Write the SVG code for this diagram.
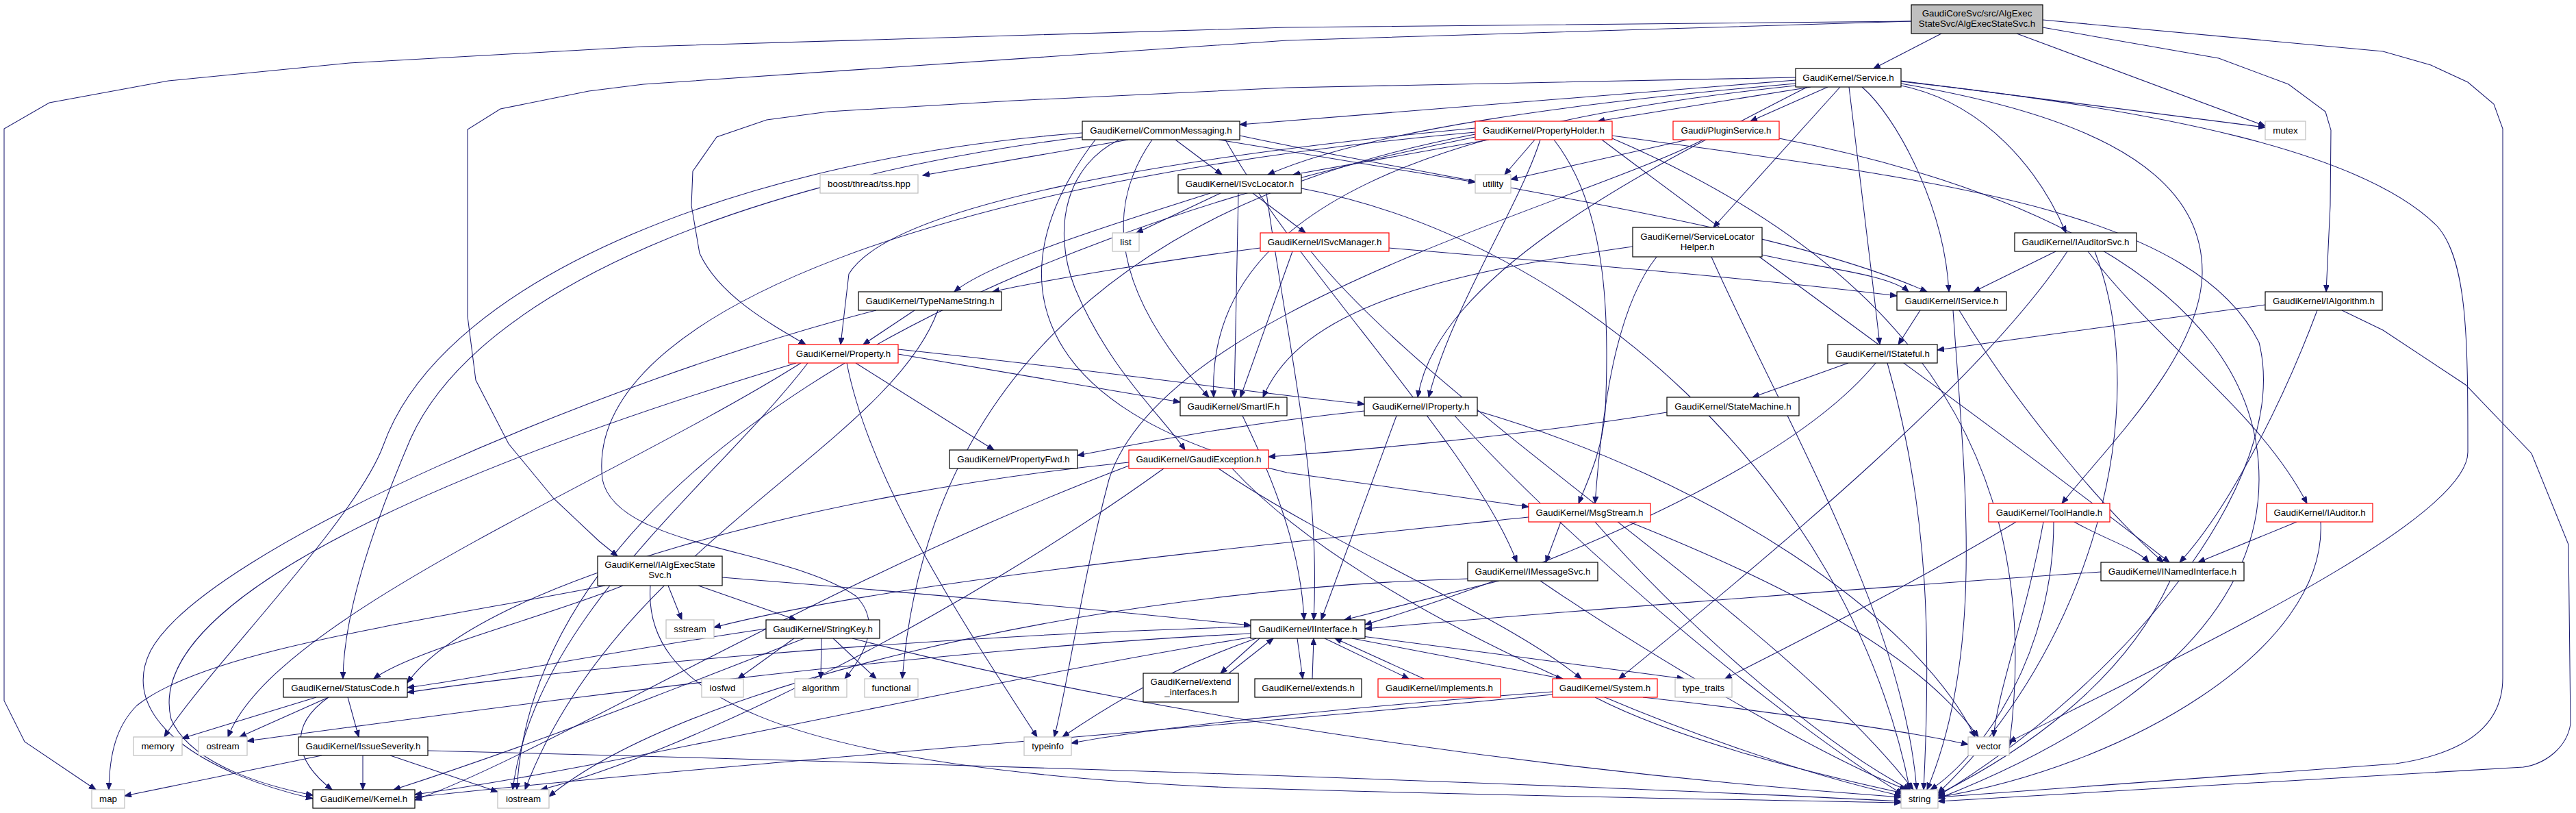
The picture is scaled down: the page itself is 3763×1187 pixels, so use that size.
<svg xmlns="http://www.w3.org/2000/svg" width="3763" height="1187" viewBox="0 0 3763 1187">
<defs>
<marker id="ah" markerUnits="userSpaceOnUse" markerWidth="12" markerHeight="9" refX="10" refY="4" orient="auto"><path d="M0,0 L10,4 L0,8 z" fill="#191970" stroke="#191970" stroke-width="1"/></marker>
</defs>
<style>
.e{fill:none;stroke:#191970;stroke-width:1.05;marker-end:url(#ah)}
.n rect{fill:#fff;stroke:#000;stroke-width:1.2}
.n.r rect{stroke:#ff0000}
.n.x rect{stroke:#bfbfbf}
.n.root rect{fill:#bfbfbf}
text{font-family:"Liberation Sans",Arial,Helvetica,sans-serif;font-size:13.33px;text-anchor:middle;fill:#000}
</style>
<rect width="3763" height="1187" fill="#fff"/>
<g id="edges">
<path class="e" d="M2836,49 L2737,100"/>
<path class="e" d="M2792,31 L1880,59 L940,123 L860,133 L731,159 L683,189 L683,462 L695,555 L743,648 L809,728 L875,790 L902,812"/>
<path class="e" d="M2792,31 L1880,40 L940,68 L510,92 L246,118 L72,150 L6,188 L6,1023 L36,1083 L140,1153"/>
<path class="e" d="M2946,49 L3309,184"/>
<path class="e" d="M2984,40 L3241,85 L3343,123 L3397,163 L3405,190 L3404,300 L3398,426"/>
<path class="e" d="M2984,29 L3481,75 L3551,95 L3605,120 L3643,152 L3656,188 L3656,990 C3656,1060 3600,1100 3500,1115 L2831,1164"/>
<path class="e" d="M2623,117 L1811,182"/>
<path class="e" d="M2645,127 L2334,177"/>
<path class="e" d="M2670,127 L2557,177"/>
<path class="e" d="M2623,122 C2300,150 2000,190 1852,255"/>
<path class="e" d="M2688,127 L2503,332"/>
<path class="e" d="M2777,125 C2900,150 2980,250 3018,340"/>
<path class="e" d="M2720,127 C2770,170 2840,300 2847,426"/>
<path class="e" d="M2701,127 L2734,400 L2746,503"/>
<path class="e" d="M2777,122 C3000,160 3220,230 3217,400 C3214,520 3080,650 3012,735"/>
<path class="e" d="M2623,113 L1880,128 L1480,147 L1210,163 L1120,175 L1047,200 L1012,250 L1010,300 L1022,370 C1050,430 1120,470 1177,503"/>
<path class="e" d="M2623,125 C2100,180 1760,300 1773,580"/>
<path class="e" d="M2640,127 C2400,250 2100,400 2071,580"/>
<path class="e" d="M2777,118 L3309,186"/>
<path class="e" d="M2777,119 C3150,160 3450,220 3560,330 C3605,380 3605,500 3605,660 C3605,760 3200,950 2935,1083"/>
<path class="e" d="M1648,204 L1348,256"/>
<path class="e" d="M1717,204 L1785,255"/>
<path class="e" d="M1780,204 L2155,266"/>
<path class="e" d="M1635,204 C1560,240 1535,330 1570,420 C1620,540 1700,610 1731,657"/>
<path class="e" d="M1683,204 C1630,280 1600,400 1766,580"/>
<path class="e" d="M1790,204 C1900,400 2150,650 2216,821"/>
<path class="e" d="M1600,204 C1450,400 1500,600 1880,690 L2233,740"/>
<path class="e" d="M1581,200 C1100,260 700,420 600,640 C540,780 502,900 501,991"/>
<path class="e" d="M1581,194 C1100,230 650,400 560,650 C520,760 300,980 240,1076"/>
<path class="e" d="M1811,198 C2200,280 2600,330 2815,426"/>
<path class="e" d="M2175,204 L1889,255"/>
<path class="e" d="M2242,204 L2198,255"/>
<path class="e" d="M2250,204 C2220,300 2120,450 2087,580"/>
<path class="e" d="M2270,204 C2345,300 2352,450 2345,600 C2340,660 2320,700 2306,735"/>
<path class="e" d="M2155,187 C1700,230 1300,300 1240,400 L1228,503"/>
<path class="e" d="M2155,193 C1400,260 850,450 880,700 C900,800 1150,800 1250,870 C1290,910 1260,960 1234,991"/>
<path class="e" d="M2155,196 C1600,300 1350,600 1318,991"/>
<path class="e" d="M2155,200 C1400,350 780,700 755,1153"/>
<path class="e" d="M2355,198 C2800,260 3200,300 3300,500 C3350,700 3100,1000 2831,1162"/>
<path class="e" d="M2355,202 C2700,350 3000,600 2935,1090"/>
<path class="e" d="M2340,204 C2600,400 2950,650 3169,821"/>
<path class="e" d="M2465,204 L2207,262"/>
<path class="e" d="M2488,204 C2300,300 1700,450 1620,700 C1580,850 1560,1000 1540,1076"/>
<path class="e" d="M2599,202 C2900,260 3300,400 3300,700 C3300,950 3000,1100 2831,1166"/>
<path class="e" d="M1783,282 L1660,340"/>
<path class="e" d="M1768,282 C1650,320 1450,380 1394,426"/>
<path class="e" d="M1809,282 L1803,580"/>
<path class="e" d="M1830,282 L1907,340"/>
<path class="e" d="M1850,282 C1880,500 1930,700 1919,905"/>
<path class="e" d="M1901,275 C2300,350 2700,700 2790,1153"/>
<path class="e" d="M1841,362 C1700,380 1520,410 1450,426"/>
<path class="e" d="M2029,362 C2300,385 2600,410 2771,432"/>
<path class="e" d="M1888,367 L1812,580"/>
<path class="e" d="M1915,367 C2100,600 2600,900 2795,1153"/>
<path class="e" d="M2385,360 C2100,400 1900,450 1845,580"/>
<path class="e" d="M2420,375 C2360,450 2340,600 2330,735"/>
<path class="e" d="M2574,372 C2650,390 2760,400 2788,426"/>
<path class="e" d="M2500,375 C2600,600 2780,900 2800,1153"/>
<path class="e" d="M3003,367 L2883,426"/>
<path class="e" d="M3020,367 C2900,550 2600,800 2365,991"/>
<path class="e" d="M3050,367 C3150,500 3300,600 3370,735"/>
<path class="e" d="M3060,367 C3150,600 3050,950 2831,1158"/>
<path class="e" d="M3309,445 L2830,511"/>
<path class="e" d="M3385,453 C3330,600 3250,750 3184,821"/>
<path class="e" d="M3421,453 L3481,482 L3602,562 L3698,662 L3752,795 L3755,1057 C3750,1090 3720,1115 3686,1120 L2831,1170"/>
<path class="e" d="M2805,453 L2773,503"/>
<path class="e" d="M2862,453 C2950,600 3080,750 3160,821"/>
<path class="e" d="M2853,453 C2870,700 2900,950 2815,1153"/>
<path class="e" d="M1336,453 L1261,503"/>
<path class="e" d="M1280,453 C900,550 300,800 220,950 C170,1050 300,1130 457,1166"/>
<path class="e" d="M1370,453 C1300,650 900,800 767,1153"/>
<path class="e" d="M1312,517 L1724,587"/>
<path class="e" d="M1312,510 C1600,540 1800,570 1993,590"/>
<path class="e" d="M1250,530 L1452,657"/>
<path class="e" d="M1163,530 C800,640 200,850 250,1050 C280,1120 400,1150 457,1161"/>
<path class="e" d="M1237,530 C1270,700 1400,900 1515,1076"/>
<path class="e" d="M1180,530 C1050,700 780,900 749,1153"/>
<path class="e" d="M1170,530 C900,700 400,900 333,1076"/>
<path class="e" d="M2700,530 L2560,580"/>
<path class="e" d="M2740,530 C2600,700 2200,850 1994,912"/>
<path class="e" d="M2757,530 C2820,750 2820,950 2810,1153"/>
<path class="e" d="M1815,607 C1860,700 1900,800 1905,905"/>
<path class="e" d="M1993,600 C1800,620 1650,650 1574,665"/>
<path class="e" d="M2040,607 L1930,905"/>
<path class="e" d="M2125,607 C2300,800 2600,1050 2780,1160"/>
<path class="e" d="M2158,600 C2500,700 2800,900 2885,1076"/>
<path class="e" d="M2435,602 C2200,640 1950,660 1853,667"/>
<path class="e" d="M1649,675 C1200,720 700,850 595,997"/>
<path class="e" d="M1649,680 C1200,850 800,1100 606,1168"/>
<path class="e" d="M1780,684 C1950,800 2200,900 2310,991"/>
<path class="e" d="M1800,684 C2000,900 2500,1100 2777,1162"/>
<path class="e" d="M1700,684 C1400,900 1000,1100 790,1153"/>
<path class="e" d="M2280,762 L2258,821"/>
<path class="e" d="M2233,755 C1800,800 1300,850 1043,916"/>
<path class="e" d="M2330,762 C2450,900 2650,1080 2790,1153"/>
<path class="e" d="M2380,762 C2600,850 2800,950 2890,1076"/>
<path class="e" d="M2945,762 C2800,850 2600,950 2520,991"/>
<path class="e" d="M2985,762 C2960,900 2920,1000 2912,1076"/>
<path class="e" d="M3000,762 C3000,950 2900,1100 2820,1153"/>
<path class="e" d="M3030,762 C3080,790 3120,800 3139,821"/>
<path class="e" d="M3355,762 L3211,821"/>
<path class="e" d="M3390,762 C3400,950 3100,1120 2831,1164"/>
<path class="e" d="M884,855 C600,910 300,950 200,1030 C170,1060 160,1100 159,1153"/>
<path class="e" d="M910,855 C800,900 600,950 546,991"/>
<path class="e" d="M976,855 L996,905"/>
<path class="e" d="M1020,855 L1163,905"/>
<path class="e" d="M1055,843 C1400,870 1700,900 1827,913"/>
<path class="e" d="M950,855 C940,1000 1100,1120 1800,1150 C2300,1165 2600,1168 2777,1172"/>
<path class="e" d="M2190,848 L1964,905"/>
<path class="e" d="M2250,848 C2400,950 2650,1100 2785,1153"/>
<path class="e" d="M2144,845 C1600,860 1000,1000 802,1163"/>
<path class="e" d="M3069,835 C2700,860 2200,900 1994,918"/>
<path class="e" d="M3170,848 C3100,1000 2950,1100 2831,1160"/>
<path class="e" d="M1119,918 C900,950 700,990 595,1004"/>
<path class="e" d="M1160,932 L1078,991"/>
<path class="e" d="M1200,932 L1199,991"/>
<path class="e" d="M1217,932 L1280,991"/>
<path class="e" d="M1175,932 C1000,1000 800,1080 575,1153"/>
<path class="e" d="M1245,932 C1700,1050 2300,1130 2777,1164"/>
<path class="e" d="M1840,932 L1783,983"/>
<path class="e" d="M1795,983 L1860,932"/>
<path class="e" d="M1895,932 L1903,991"/>
<path class="e" d="M1917,991 L1919,932"/>
<path class="e" d="M1935,932 L2058,991"/>
<path class="e" d="M2080,991 L1950,932"/>
<path class="e" d="M1975,932 L2283,991"/>
<path class="e" d="M1990,929 L2460,991"/>
<path class="e" d="M1835,932 C1700,980 1620,1030 1552,1076"/>
<path class="e" d="M1827,915 C1300,930 800,980 595,1011"/>
<path class="e" d="M1830,930 C1400,1000 900,1120 606,1160"/>
<path class="e" d="M1827,925 C1300,950 600,1050 361,1082"/>
<path class="e" d="M462,1018 L266,1078"/>
<path class="e" d="M480,1018 L350,1076"/>
<path class="e" d="M508,1018 L524,1076"/>
<path class="e" d="M480,1018 C420,1060 430,1110 485,1153"/>
<path class="e" d="M470,1103 L182,1162"/>
<path class="e" d="M530,1103 L530,1153"/>
<path class="e" d="M570,1103 L727,1156"/>
<path class="e" d="M625,1096 C1200,1110 2200,1140 2777,1170"/>
<path class="e" d="M2268,1010 C2000,1030 1700,1060 1565,1085"/>
<path class="e" d="M2268,1014 C1800,1060 1000,1120 606,1164"/>
<path class="e" d="M2330,1018 C2450,1080 2650,1130 2780,1158"/>
<path class="e" d="M2400,1018 C2600,1040 2800,1070 2875,1087"/>
</g>
<g id="node-root" class="n root"><rect x="2792" y="7" width="192" height="42"/><text x="2888" y="24">GaudiCoreSvc/src/AlgExec</text><text x="2888" y="39">StateSvc/AlgExecStateSvc.h</text></g>
<g id="node-service" class="n"><rect x="2623" y="100" width="154" height="27"/><text x="2700" y="118">GaudiKernel/Service.h</text></g>
<g id="node-commonmessaging" class="n"><rect x="1581" y="177" width="230" height="27"/><text x="1696" y="195">GaudiKernel/CommonMessaging.h</text></g>
<g id="node-propertyholder" class="n r"><rect x="2155" y="177" width="200" height="27"/><text x="2255" y="195">GaudiKernel/PropertyHolder.h</text></g>
<g id="node-pluginservice" class="n r"><rect x="2444" y="177" width="155" height="27"/><text x="2521.5" y="195">Gaudi/PluginService.h</text></g>
<g id="node-mutex" class="n x"><rect x="3309" y="177" width="59" height="27"/><text x="3338.5" y="195">mutex</text></g>
<g id="node-boost" class="n x"><rect x="1198" y="255" width="143" height="27"/><text x="1269.5" y="273">boost/thread/tss.hpp</text></g>
<g id="node-isvclocator" class="n"><rect x="1721" y="255" width="180" height="27"/><text x="1811" y="273">GaudiKernel/ISvcLocator.h</text></g>
<g id="node-utility" class="n x"><rect x="2155" y="255" width="52" height="27"/><text x="2181" y="273">utility</text></g>
<g id="node-list" class="n x"><rect x="1625" y="340" width="39" height="27"/><text x="1644.5" y="358">list</text></g>
<g id="node-isvcmanager" class="n r"><rect x="1841" y="340" width="188" height="27"/><text x="1935" y="358">GaudiKernel/ISvcManager.h</text></g>
<g id="node-servicelocatorhelper" class="n"><rect x="2385" y="332" width="189" height="43"/><text x="2479.5" y="349.5">GaudiKernel/ServiceLocator</text><text x="2479.5" y="364.5">Helper.h</text></g>
<g id="node-iauditorsvc" class="n"><rect x="2943" y="340" width="178" height="27"/><text x="3032" y="358">GaudiKernel/IAuditorSvc.h</text></g>
<g id="node-typenamestring" class="n"><rect x="1254" y="426" width="209" height="27"/><text x="1358.5" y="444">GaudiKernel/TypeNameString.h</text></g>
<g id="node-iservice" class="n"><rect x="2771" y="426" width="160" height="27"/><text x="2851" y="444">GaudiKernel/IService.h</text></g>
<g id="node-ialgorithm" class="n"><rect x="3309" y="426" width="171" height="27"/><text x="3394.5" y="444">GaudiKernel/IAlgorithm.h</text></g>
<g id="node-property" class="n r"><rect x="1152" y="503" width="160" height="27"/><text x="1232" y="521">GaudiKernel/Property.h</text></g>
<g id="node-istateful" class="n"><rect x="2670" y="503" width="160" height="27"/><text x="2750" y="521">GaudiKernel/IStateful.h</text></g>
<g id="node-smartif" class="n"><rect x="1724" y="580" width="156" height="27"/><text x="1802" y="598">GaudiKernel/SmartIF.h</text></g>
<g id="node-iproperty" class="n"><rect x="1993" y="580" width="165" height="27"/><text x="2075.5" y="598">GaudiKernel/IProperty.h</text></g>
<g id="node-statemachine" class="n"><rect x="2435" y="580" width="193" height="27"/><text x="2531.5" y="598">GaudiKernel/StateMachine.h</text></g>
<g id="node-propertyfwd" class="n"><rect x="1387" y="657" width="187" height="27"/><text x="1480.5" y="675">GaudiKernel/PropertyFwd.h</text></g>
<g id="node-gaudiexception" class="n r"><rect x="1649" y="657" width="204" height="27"/><text x="1751" y="675">GaudiKernel/GaudiException.h</text></g>
<g id="node-msgstream" class="n r"><rect x="2233" y="735" width="178" height="27"/><text x="2322" y="753">GaudiKernel/MsgStream.h</text></g>
<g id="node-toolhandle" class="n r"><rect x="2905" y="735" width="177" height="27"/><text x="2993.5" y="753">GaudiKernel/ToolHandle.h</text></g>
<g id="node-iauditor" class="n r"><rect x="3311" y="735" width="155" height="27"/><text x="3388.5" y="753">GaudiKernel/IAuditor.h</text></g>
<g id="node-ialgexecstatesvc" class="n"><rect x="873" y="812" width="182" height="43"/><text x="964" y="829">GaudiKernel/IAlgExecState</text><text x="964" y="844">Svc.h</text></g>
<g id="node-imessagesvc" class="n"><rect x="2144" y="821" width="190" height="27"/><text x="2239" y="839">GaudiKernel/IMessageSvc.h</text></g>
<g id="node-inamedinterface" class="n"><rect x="3069" y="821" width="209" height="27"/><text x="3173.5" y="839">GaudiKernel/INamedInterface.h</text></g>
<g id="node-sstream" class="n x"><rect x="973" y="905" width="70" height="27"/><text x="1008" y="923">sstream</text></g>
<g id="node-stringkey" class="n"><rect x="1119" y="905" width="166" height="27"/><text x="1202" y="923">GaudiKernel/StringKey.h</text></g>
<g id="node-iinterface" class="n"><rect x="1827" y="905" width="167" height="27"/><text x="1910.5" y="923">GaudiKernel/IInterface.h</text></g>
<g id="node-statuscode" class="n"><rect x="414" y="991" width="181" height="27"/><text x="504.5" y="1009">GaudiKernel/StatusCode.h</text></g>
<g id="node-iosfwd" class="n x"><rect x="1025" y="991" width="61" height="27"/><text x="1055.5" y="1009">iosfwd</text></g>
<g id="node-algorithm" class="n x"><rect x="1161" y="991" width="76" height="27"/><text x="1199" y="1009">algorithm</text></g>
<g id="node-functional" class="n x"><rect x="1263" y="991" width="78" height="27"/><text x="1302" y="1009">functional</text></g>
<g id="node-extend_interfaces" class="n"><rect x="1670" y="983" width="139" height="42"/><text x="1739.5" y="1000">GaudiKernel/extend</text><text x="1739.5" y="1015">_interfaces.h</text></g>
<g id="node-extends" class="n"><rect x="1833" y="991" width="156" height="27"/><text x="1911" y="1009">GaudiKernel/extends.h</text></g>
<g id="node-implements" class="n r"><rect x="2013" y="991" width="179" height="27"/><text x="2102.5" y="1009">GaudiKernel/implements.h</text></g>
<g id="node-system" class="n r"><rect x="2268" y="991" width="153" height="27"/><text x="2344.5" y="1009">GaudiKernel/System.h</text></g>
<g id="node-type_traits" class="n x"><rect x="2447" y="991" width="83" height="27"/><text x="2488.5" y="1009">type_traits</text></g>
<g id="node-memory" class="n x"><rect x="195" y="1076" width="71" height="27"/><text x="230.5" y="1094">memory</text></g>
<g id="node-ostream" class="n x"><rect x="290" y="1076" width="71" height="27"/><text x="325.5" y="1094">ostream</text></g>
<g id="node-issueseverity" class="n"><rect x="436" y="1076" width="189" height="27"/><text x="530.5" y="1094">GaudiKernel/IssueSeverity.h</text></g>
<g id="node-typeinfo" class="n x"><rect x="1496" y="1076" width="69" height="27"/><text x="1530.5" y="1094">typeinfo</text></g>
<g id="node-vector" class="n x"><rect x="2875" y="1076" width="60" height="27"/><text x="2905" y="1094">vector</text></g>
<g id="node-map" class="n x"><rect x="134" y="1153" width="48" height="27"/><text x="158" y="1171">map</text></g>
<g id="node-kernel" class="n"><rect x="457" y="1153" width="149" height="27"/><text x="531.5" y="1171">GaudiKernel/Kernel.h</text></g>
<g id="node-iostream" class="n x"><rect x="727" y="1153" width="75" height="27"/><text x="764.5" y="1171">iostream</text></g>
<g id="node-string" class="n x"><rect x="2777" y="1153" width="54" height="27"/><text x="2804" y="1171">string</text></g>
</svg>
